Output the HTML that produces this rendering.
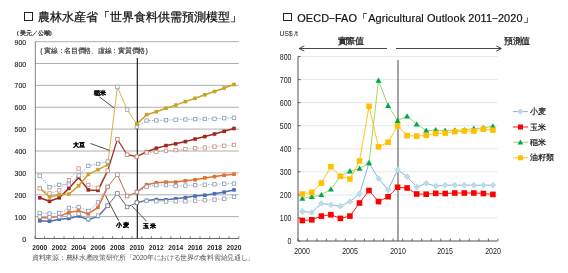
<!DOCTYPE html>
<html><head><meta charset="utf-8"><style>
html,body{margin:0;padding:0;background:#fff;width:568px;height:273px;overflow:hidden;position:relative}
.d{font-size:8.8px;vertical-align:0.7px;margin:0 0.4px}
.t{position:absolute;white-space:nowrap;font-family:"Liberation Sans",sans-serif;color:#111}
</style></head><body>
<div id="w" style="position:absolute;left:0;top:0;width:568px;height:273px;filter:blur(0.25px)"><svg width="568" height="273" viewBox="0 0 568 273" style="position:absolute;left:0;top:0"><line x1="34.9" y1="216.6" x2="238.8" y2="216.6" stroke="#9a9a9a" stroke-width="0.8"/><line x1="34.9" y1="194.8" x2="238.8" y2="194.8" stroke="#9a9a9a" stroke-width="0.8"/><line x1="34.9" y1="172.9" x2="238.8" y2="172.9" stroke="#9a9a9a" stroke-width="0.8"/><line x1="34.9" y1="151.0" x2="238.8" y2="151.0" stroke="#9a9a9a" stroke-width="0.8"/><line x1="34.9" y1="129.1" x2="238.8" y2="129.1" stroke="#9a9a9a" stroke-width="0.8"/><line x1="34.9" y1="107.3" x2="238.8" y2="107.3" stroke="#9a9a9a" stroke-width="0.8"/><line x1="34.9" y1="85.4" x2="238.8" y2="85.4" stroke="#9a9a9a" stroke-width="0.8"/><line x1="34.9" y1="63.5" x2="238.8" y2="63.5" stroke="#9a9a9a" stroke-width="0.8"/><line x1="34.9" y1="41.7" x2="238.8" y2="41.7" stroke="#9a9a9a" stroke-width="0.8"/><line x1="35.3" y1="41.5" x2="35.3" y2="238.5" stroke="#777" stroke-width="0.9"/><line x1="34.9" y1="238.5" x2="238.8" y2="238.5" stroke="#555" stroke-width="0.9"/><line x1="34.9" y1="236.3" x2="34.9" y2="238.5" stroke="#555" stroke-width="0.8"/><line x1="44.6" y1="236.3" x2="44.6" y2="238.5" stroke="#555" stroke-width="0.8"/><line x1="54.3" y1="236.3" x2="54.3" y2="238.5" stroke="#555" stroke-width="0.8"/><line x1="64.0" y1="236.3" x2="64.0" y2="238.5" stroke="#555" stroke-width="0.8"/><line x1="73.7" y1="236.3" x2="73.7" y2="238.5" stroke="#555" stroke-width="0.8"/><line x1="83.5" y1="236.3" x2="83.5" y2="238.5" stroke="#555" stroke-width="0.8"/><line x1="93.2" y1="236.3" x2="93.2" y2="238.5" stroke="#555" stroke-width="0.8"/><line x1="102.9" y1="236.3" x2="102.9" y2="238.5" stroke="#555" stroke-width="0.8"/><line x1="112.6" y1="236.3" x2="112.6" y2="238.5" stroke="#555" stroke-width="0.8"/><line x1="122.3" y1="236.3" x2="122.3" y2="238.5" stroke="#555" stroke-width="0.8"/><line x1="132.0" y1="236.3" x2="132.0" y2="238.5" stroke="#555" stroke-width="0.8"/><line x1="141.7" y1="236.3" x2="141.7" y2="238.5" stroke="#555" stroke-width="0.8"/><line x1="151.4" y1="236.3" x2="151.4" y2="238.5" stroke="#555" stroke-width="0.8"/><line x1="161.1" y1="236.3" x2="161.1" y2="238.5" stroke="#555" stroke-width="0.8"/><line x1="170.8" y1="236.3" x2="170.8" y2="238.5" stroke="#555" stroke-width="0.8"/><line x1="180.6" y1="236.3" x2="180.6" y2="238.5" stroke="#555" stroke-width="0.8"/><line x1="190.3" y1="236.3" x2="190.3" y2="238.5" stroke="#555" stroke-width="0.8"/><line x1="200.0" y1="236.3" x2="200.0" y2="238.5" stroke="#555" stroke-width="0.8"/><line x1="209.7" y1="236.3" x2="209.7" y2="238.5" stroke="#555" stroke-width="0.8"/><line x1="219.4" y1="236.3" x2="219.4" y2="238.5" stroke="#555" stroke-width="0.8"/><line x1="229.1" y1="236.3" x2="229.1" y2="238.5" stroke="#555" stroke-width="0.8"/><line x1="238.8" y1="236.3" x2="238.8" y2="238.5" stroke="#555" stroke-width="0.8"/><line x1="137.3" y1="58" x2="137.3" y2="238.5" stroke="#111" stroke-width="1.1"/><polyline points="39.8,220.8 49.5,221.2 59.2,219.3 68.9,218.4 78.6,216.0 88.3,219.7 98.0,216.4 107.7,205.7" fill="none" stroke="#4a6fb5" stroke-width="1.5" stroke-linejoin="round"/><polyline points="136.9,202.6 146.6,200.4 156.3,199.6 166.0,199.8 175.7,198.7 185.4,197.6 195.1,196.1 204.8,195.2 214.5,193.7 224.2,192.1 234.0,189.9" fill="none" stroke="#4a6fb5" stroke-width="1.5" stroke-linejoin="round"/><polyline points="107.7,205.7 117.4,193.4 127.1,207.0 136.9,202.6" fill="none" stroke="#5a5a6a" stroke-width="0.9" stroke-linejoin="round"/><polyline points="39.8,217.7 49.5,217.7 59.2,216.6 68.9,212.3 78.6,210.9 88.3,213.8 98.0,207.4 107.7,186.9" fill="none" stroke="#e0722e" stroke-width="1.5" stroke-linejoin="round"/><polyline points="136.9,192.1 146.6,184.7 156.3,182.7 166.0,182.1 175.7,182.1 185.4,180.8 195.1,179.7 204.8,177.9 214.5,176.6 224.2,175.3 234.0,174.2" fill="none" stroke="#e0722e" stroke-width="1.5" stroke-linejoin="round"/><polyline points="107.7,186.9 117.4,174.6 127.1,196.1 136.9,192.1" fill="none" stroke="#b0704a" stroke-width="1.0" stroke-linejoin="round"/><polyline points="39.8,197.8 49.5,201.3 59.2,197.8 68.9,188.4 78.6,177.5 88.3,189.9 98.0,190.4 107.7,170.7" fill="none" stroke="#a02a22" stroke-width="1.5" stroke-linejoin="round"/><polyline points="136.9,156.7 146.6,151.7 156.3,148.2 166.0,145.6 175.7,143.8 185.4,141.6 195.1,139.0 204.8,136.6 214.5,134.0 224.2,131.3 234.0,128.5" fill="none" stroke="#a02a22" stroke-width="1.5" stroke-linejoin="round"/><polyline points="107.7,170.7 117.4,139.2 127.1,154.7 136.9,156.7" fill="none" stroke="#a02a22" stroke-width="1.2" stroke-linejoin="round"/><polyline points="39.8,188.2 49.5,196.9 59.2,194.8 68.9,194.1 78.6,185.8 88.3,174.4 98.0,169.6 107.7,164.8" fill="none" stroke="#c8a22a" stroke-width="1.5" stroke-linejoin="round"/><polyline points="136.9,124.1 146.6,114.7 156.3,111.7 166.0,108.2 175.7,105.1 185.4,101.6 195.1,98.3 204.8,94.8 214.5,91.5 224.2,88.0 234.0,84.5" fill="none" stroke="#c8a22a" stroke-width="1.5" stroke-linejoin="round"/><polyline points="107.7,164.8 117.4,86.9 127.1,109.7 136.9,124.1" fill="none" stroke="#d0b848" stroke-width="1.0" stroke-linejoin="round"/><polyline points="39.8,216.6 49.5,217.3 59.2,217.1 68.9,216.0 78.6,213.8 88.3,218.8 98.0,215.5 107.7,205.7" fill="none" stroke="#e0a070" stroke-width="0.8" stroke-dasharray="1.5,1.3"/><polyline points="136.9,202.6 146.6,200.9 156.3,201.3 166.0,201.5 175.7,201.3 185.4,201.3 195.1,200.7 204.8,200.2 214.5,199.6 224.2,198.7 234.0,196.9" fill="none" stroke="#e0a070" stroke-width="0.8" stroke-dasharray="1.5,1.3"/><polyline points="39.8,212.9 49.5,213.6 59.2,213.3 68.9,207.9 78.6,207.0 88.3,210.9 98.0,202.4 107.7,186.9" fill="none" stroke="#8aa0c8" stroke-width="0.8" stroke-dasharray="1.5,1.3"/><polyline points="136.9,192.1 146.6,186.7 156.3,185.1 166.0,185.1 175.7,186.0 185.4,185.6 195.1,185.1 204.8,184.7 214.5,184.3 224.2,183.8 234.0,183.6" fill="none" stroke="#8aa0c8" stroke-width="0.8" stroke-dasharray="1.5,1.3"/><polyline points="39.8,188.4 49.5,193.4 59.2,190.4 68.9,180.1 78.6,168.5 88.3,184.9 98.0,187.8 107.7,170.7" fill="none" stroke="#d89078" stroke-width="0.8" stroke-dasharray="1.5,1.3"/><polyline points="136.9,156.7 146.6,152.6 156.3,151.9 166.0,150.8 175.7,150.1 185.4,149.1 195.1,148.2 204.8,147.5 214.5,146.6 224.2,145.8 234.0,144.9" fill="none" stroke="#d89078" stroke-width="0.8" stroke-dasharray="1.5,1.3"/><polyline points="39.8,175.7 49.5,187.3 59.2,184.9 68.9,184.5 78.6,175.5 88.3,165.9 98.0,163.9 107.7,161.5" fill="none" stroke="#7090c8" stroke-width="0.8" stroke-dasharray="1.5,1.3"/><polyline points="136.9,126.7 146.6,120.6 156.3,120.4 166.0,120.2 175.7,119.7 185.4,119.5 195.1,119.1 204.8,118.9 214.5,118.7 224.2,118.2 234.0,117.8" fill="none" stroke="#7090c8" stroke-width="0.8" stroke-dasharray="1.5,1.3"/><rect x="38.0" y="219.0" width="3.6" height="3.6" fill="#4a6fb5" stroke="#4a6fb5" stroke-width="0"/><rect x="47.7" y="219.4" width="3.6" height="3.6" fill="#4a6fb5" stroke="#4a6fb5" stroke-width="0"/><rect x="57.4" y="217.5" width="3.6" height="3.6" fill="#4a6fb5" stroke="#4a6fb5" stroke-width="0"/><rect x="67.1" y="216.6" width="3.6" height="3.6" fill="#4a6fb5" stroke="#4a6fb5" stroke-width="0"/><rect x="76.8" y="214.2" width="3.6" height="3.6" fill="#4a6fb5" stroke="#4a6fb5" stroke-width="0"/><rect x="86.5" y="217.9" width="3.6" height="3.6" fill="#4a6fb5" stroke="#4a6fb5" stroke-width="0"/><rect x="96.2" y="214.6" width="3.6" height="3.6" fill="#4a6fb5" stroke="#4a6fb5" stroke-width="0"/><rect x="144.8" y="198.6" width="3.6" height="3.6" fill="#4a6fb5" stroke="#4a6fb5" stroke-width="0"/><rect x="154.5" y="197.8" width="3.6" height="3.6" fill="#4a6fb5" stroke="#4a6fb5" stroke-width="0"/><rect x="164.2" y="198.0" width="3.6" height="3.6" fill="#4a6fb5" stroke="#4a6fb5" stroke-width="0"/><rect x="173.9" y="196.9" width="3.6" height="3.6" fill="#4a6fb5" stroke="#4a6fb5" stroke-width="0"/><rect x="183.6" y="195.8" width="3.6" height="3.6" fill="#4a6fb5" stroke="#4a6fb5" stroke-width="0"/><rect x="193.3" y="194.3" width="3.6" height="3.6" fill="#4a6fb5" stroke="#4a6fb5" stroke-width="0"/><rect x="203.0" y="193.4" width="3.6" height="3.6" fill="#4a6fb5" stroke="#4a6fb5" stroke-width="0"/><rect x="212.7" y="191.9" width="3.6" height="3.6" fill="#4a6fb5" stroke="#4a6fb5" stroke-width="0"/><rect x="222.4" y="190.3" width="3.6" height="3.6" fill="#4a6fb5" stroke="#4a6fb5" stroke-width="0"/><rect x="232.2" y="188.1" width="3.6" height="3.6" fill="#4a6fb5" stroke="#4a6fb5" stroke-width="0"/><rect x="38.0" y="215.9" width="3.6" height="3.6" fill="#e0722e" stroke="#e0722e" stroke-width="0"/><rect x="47.7" y="215.9" width="3.6" height="3.6" fill="#e0722e" stroke="#e0722e" stroke-width="0"/><rect x="57.4" y="214.8" width="3.6" height="3.6" fill="#e0722e" stroke="#e0722e" stroke-width="0"/><rect x="67.1" y="210.5" width="3.6" height="3.6" fill="#e0722e" stroke="#e0722e" stroke-width="0"/><rect x="76.8" y="209.1" width="3.6" height="3.6" fill="#e0722e" stroke="#e0722e" stroke-width="0"/><rect x="86.5" y="212.0" width="3.6" height="3.6" fill="#e0722e" stroke="#e0722e" stroke-width="0"/><rect x="96.2" y="205.6" width="3.6" height="3.6" fill="#e0722e" stroke="#e0722e" stroke-width="0"/><rect x="144.8" y="182.9" width="3.6" height="3.6" fill="#e0722e" stroke="#e0722e" stroke-width="0"/><rect x="154.5" y="180.9" width="3.6" height="3.6" fill="#e0722e" stroke="#e0722e" stroke-width="0"/><rect x="164.2" y="180.3" width="3.6" height="3.6" fill="#e0722e" stroke="#e0722e" stroke-width="0"/><rect x="173.9" y="180.3" width="3.6" height="3.6" fill="#e0722e" stroke="#e0722e" stroke-width="0"/><rect x="183.6" y="179.0" width="3.6" height="3.6" fill="#e0722e" stroke="#e0722e" stroke-width="0"/><rect x="193.3" y="177.9" width="3.6" height="3.6" fill="#e0722e" stroke="#e0722e" stroke-width="0"/><rect x="203.0" y="176.1" width="3.6" height="3.6" fill="#e0722e" stroke="#e0722e" stroke-width="0"/><rect x="212.7" y="174.8" width="3.6" height="3.6" fill="#e0722e" stroke="#e0722e" stroke-width="0"/><rect x="222.4" y="173.5" width="3.6" height="3.6" fill="#e0722e" stroke="#e0722e" stroke-width="0"/><rect x="232.2" y="172.4" width="3.6" height="3.6" fill="#e0722e" stroke="#e0722e" stroke-width="0"/><rect x="38.0" y="196.0" width="3.6" height="3.6" fill="#a02a22" stroke="#a02a22" stroke-width="0"/><rect x="47.7" y="199.5" width="3.6" height="3.6" fill="#a02a22" stroke="#a02a22" stroke-width="0"/><rect x="57.4" y="196.0" width="3.6" height="3.6" fill="#a02a22" stroke="#a02a22" stroke-width="0"/><rect x="67.1" y="186.6" width="3.6" height="3.6" fill="#a02a22" stroke="#a02a22" stroke-width="0"/><rect x="76.8" y="175.7" width="3.6" height="3.6" fill="#a02a22" stroke="#a02a22" stroke-width="0"/><rect x="86.5" y="188.1" width="3.6" height="3.6" fill="#a02a22" stroke="#a02a22" stroke-width="0"/><rect x="96.2" y="188.6" width="3.6" height="3.6" fill="#a02a22" stroke="#a02a22" stroke-width="0"/><rect x="105.9" y="168.9" width="3.6" height="3.6" fill="#a02a22" stroke="#a02a22" stroke-width="0"/><rect x="144.8" y="149.9" width="3.6" height="3.6" fill="#a02a22" stroke="#a02a22" stroke-width="0"/><rect x="154.5" y="146.4" width="3.6" height="3.6" fill="#a02a22" stroke="#a02a22" stroke-width="0"/><rect x="164.2" y="143.8" width="3.6" height="3.6" fill="#a02a22" stroke="#a02a22" stroke-width="0"/><rect x="173.9" y="142.0" width="3.6" height="3.6" fill="#a02a22" stroke="#a02a22" stroke-width="0"/><rect x="183.6" y="139.8" width="3.6" height="3.6" fill="#a02a22" stroke="#a02a22" stroke-width="0"/><rect x="193.3" y="137.2" width="3.6" height="3.6" fill="#a02a22" stroke="#a02a22" stroke-width="0"/><rect x="203.0" y="134.8" width="3.6" height="3.6" fill="#a02a22" stroke="#a02a22" stroke-width="0"/><rect x="212.7" y="132.2" width="3.6" height="3.6" fill="#a02a22" stroke="#a02a22" stroke-width="0"/><rect x="222.4" y="129.5" width="3.6" height="3.6" fill="#a02a22" stroke="#a02a22" stroke-width="0"/><rect x="232.2" y="126.7" width="3.6" height="3.6" fill="#a02a22" stroke="#a02a22" stroke-width="0"/><rect x="38.0" y="186.4" width="3.6" height="3.6" fill="#c8a22a" stroke="#c8a22a" stroke-width="0"/><rect x="47.7" y="195.1" width="3.6" height="3.6" fill="#c8a22a" stroke="#c8a22a" stroke-width="0"/><rect x="57.4" y="193.0" width="3.6" height="3.6" fill="#c8a22a" stroke="#c8a22a" stroke-width="0"/><rect x="67.1" y="192.3" width="3.6" height="3.6" fill="#c8a22a" stroke="#c8a22a" stroke-width="0"/><rect x="76.8" y="184.0" width="3.6" height="3.6" fill="#c8a22a" stroke="#c8a22a" stroke-width="0"/><rect x="86.5" y="172.6" width="3.6" height="3.6" fill="#c8a22a" stroke="#c8a22a" stroke-width="0"/><rect x="96.2" y="167.8" width="3.6" height="3.6" fill="#c8a22a" stroke="#c8a22a" stroke-width="0"/><rect x="105.9" y="163.0" width="3.6" height="3.6" fill="#c8a22a" stroke="#c8a22a" stroke-width="0"/><rect x="135.1" y="122.3" width="3.6" height="3.6" fill="#c8a22a" stroke="#c8a22a" stroke-width="0"/><rect x="144.8" y="112.9" width="3.6" height="3.6" fill="#c8a22a" stroke="#c8a22a" stroke-width="0"/><rect x="154.5" y="109.9" width="3.6" height="3.6" fill="#c8a22a" stroke="#c8a22a" stroke-width="0"/><rect x="164.2" y="106.4" width="3.6" height="3.6" fill="#c8a22a" stroke="#c8a22a" stroke-width="0"/><rect x="173.9" y="103.3" width="3.6" height="3.6" fill="#c8a22a" stroke="#c8a22a" stroke-width="0"/><rect x="183.6" y="99.8" width="3.6" height="3.6" fill="#c8a22a" stroke="#c8a22a" stroke-width="0"/><rect x="193.3" y="96.5" width="3.6" height="3.6" fill="#c8a22a" stroke="#c8a22a" stroke-width="0"/><rect x="203.0" y="93.0" width="3.6" height="3.6" fill="#c8a22a" stroke="#c8a22a" stroke-width="0"/><rect x="212.7" y="89.7" width="3.6" height="3.6" fill="#c8a22a" stroke="#c8a22a" stroke-width="0"/><rect x="222.4" y="86.2" width="3.6" height="3.6" fill="#c8a22a" stroke="#c8a22a" stroke-width="0"/><rect x="232.2" y="82.7" width="3.6" height="3.6" fill="#c8a22a" stroke="#c8a22a" stroke-width="0"/><rect x="38.0" y="214.9" width="3.4" height="3.4" fill="#fff" stroke="#8a9ab8" stroke-width="0.8"/><rect x="47.8" y="215.6" width="3.4" height="3.4" fill="#fff" stroke="#8a9ab8" stroke-width="0.8"/><rect x="57.5" y="215.4" width="3.4" height="3.4" fill="#fff" stroke="#8a9ab8" stroke-width="0.8"/><rect x="67.2" y="214.3" width="3.4" height="3.4" fill="#fff" stroke="#8a9ab8" stroke-width="0.8"/><rect x="76.9" y="212.1" width="3.4" height="3.4" fill="#fff" stroke="#8a9ab8" stroke-width="0.8"/><rect x="86.6" y="217.1" width="3.4" height="3.4" fill="#fff" stroke="#8a9ab8" stroke-width="0.8"/><rect x="96.3" y="213.8" width="3.4" height="3.4" fill="#fff" stroke="#8a9ab8" stroke-width="0.8"/><rect x="106.0" y="204.0" width="3.4" height="3.4" fill="#fff" stroke="#8a9ab8" stroke-width="0.8"/><rect x="135.2" y="200.9" width="3.4" height="3.4" fill="#fff" stroke="#8a9ab8" stroke-width="0.8"/><rect x="144.9" y="199.2" width="3.4" height="3.4" fill="#fff" stroke="#8a9ab8" stroke-width="0.8"/><rect x="154.6" y="199.6" width="3.4" height="3.4" fill="#fff" stroke="#8a9ab8" stroke-width="0.8"/><rect x="164.3" y="199.8" width="3.4" height="3.4" fill="#fff" stroke="#8a9ab8" stroke-width="0.8"/><rect x="174.0" y="199.6" width="3.4" height="3.4" fill="#fff" stroke="#8a9ab8" stroke-width="0.8"/><rect x="183.7" y="199.6" width="3.4" height="3.4" fill="#fff" stroke="#8a9ab8" stroke-width="0.8"/><rect x="193.4" y="199.0" width="3.4" height="3.4" fill="#fff" stroke="#8a9ab8" stroke-width="0.8"/><rect x="203.1" y="198.5" width="3.4" height="3.4" fill="#fff" stroke="#8a9ab8" stroke-width="0.8"/><rect x="212.8" y="197.9" width="3.4" height="3.4" fill="#fff" stroke="#8a9ab8" stroke-width="0.8"/><rect x="222.5" y="197.0" width="3.4" height="3.4" fill="#fff" stroke="#8a9ab8" stroke-width="0.8"/><rect x="232.3" y="195.2" width="3.4" height="3.4" fill="#fff" stroke="#8a9ab8" stroke-width="0.8"/><rect x="38.0" y="211.2" width="3.4" height="3.4" fill="#fff" stroke="#8a9ab8" stroke-width="0.8"/><rect x="47.8" y="211.9" width="3.4" height="3.4" fill="#fff" stroke="#8a9ab8" stroke-width="0.8"/><rect x="57.5" y="211.6" width="3.4" height="3.4" fill="#fff" stroke="#8a9ab8" stroke-width="0.8"/><rect x="67.2" y="206.2" width="3.4" height="3.4" fill="#fff" stroke="#8a9ab8" stroke-width="0.8"/><rect x="76.9" y="205.3" width="3.4" height="3.4" fill="#fff" stroke="#8a9ab8" stroke-width="0.8"/><rect x="86.6" y="209.2" width="3.4" height="3.4" fill="#fff" stroke="#8a9ab8" stroke-width="0.8"/><rect x="96.3" y="200.7" width="3.4" height="3.4" fill="#fff" stroke="#8a9ab8" stroke-width="0.8"/><rect x="106.0" y="185.2" width="3.4" height="3.4" fill="#fff" stroke="#8a9ab8" stroke-width="0.8"/><rect x="135.2" y="190.4" width="3.4" height="3.4" fill="#fff" stroke="#8a9ab8" stroke-width="0.8"/><rect x="144.9" y="185.0" width="3.4" height="3.4" fill="#fff" stroke="#8a9ab8" stroke-width="0.8"/><rect x="154.6" y="183.4" width="3.4" height="3.4" fill="#fff" stroke="#8a9ab8" stroke-width="0.8"/><rect x="164.3" y="183.4" width="3.4" height="3.4" fill="#fff" stroke="#8a9ab8" stroke-width="0.8"/><rect x="174.0" y="184.3" width="3.4" height="3.4" fill="#fff" stroke="#8a9ab8" stroke-width="0.8"/><rect x="183.7" y="183.9" width="3.4" height="3.4" fill="#fff" stroke="#8a9ab8" stroke-width="0.8"/><rect x="193.4" y="183.4" width="3.4" height="3.4" fill="#fff" stroke="#8a9ab8" stroke-width="0.8"/><rect x="203.1" y="183.0" width="3.4" height="3.4" fill="#fff" stroke="#8a9ab8" stroke-width="0.8"/><rect x="212.8" y="182.6" width="3.4" height="3.4" fill="#fff" stroke="#8a9ab8" stroke-width="0.8"/><rect x="222.5" y="182.1" width="3.4" height="3.4" fill="#fff" stroke="#8a9ab8" stroke-width="0.8"/><rect x="232.3" y="181.9" width="3.4" height="3.4" fill="#fff" stroke="#8a9ab8" stroke-width="0.8"/><rect x="38.0" y="186.7" width="3.4" height="3.4" fill="#fff" stroke="#c89080" stroke-width="0.8"/><rect x="47.8" y="191.7" width="3.4" height="3.4" fill="#fff" stroke="#c89080" stroke-width="0.8"/><rect x="57.5" y="188.7" width="3.4" height="3.4" fill="#fff" stroke="#c89080" stroke-width="0.8"/><rect x="67.2" y="178.4" width="3.4" height="3.4" fill="#fff" stroke="#c89080" stroke-width="0.8"/><rect x="76.9" y="166.8" width="3.4" height="3.4" fill="#fff" stroke="#c89080" stroke-width="0.8"/><rect x="86.6" y="183.2" width="3.4" height="3.4" fill="#fff" stroke="#c89080" stroke-width="0.8"/><rect x="96.3" y="186.1" width="3.4" height="3.4" fill="#fff" stroke="#c89080" stroke-width="0.8"/><rect x="106.0" y="169.0" width="3.4" height="3.4" fill="#fff" stroke="#c89080" stroke-width="0.8"/><rect x="135.2" y="155.0" width="3.4" height="3.4" fill="#fff" stroke="#c89080" stroke-width="0.8"/><rect x="144.9" y="150.9" width="3.4" height="3.4" fill="#fff" stroke="#c89080" stroke-width="0.8"/><rect x="154.6" y="150.2" width="3.4" height="3.4" fill="#fff" stroke="#c89080" stroke-width="0.8"/><rect x="164.3" y="149.1" width="3.4" height="3.4" fill="#fff" stroke="#c89080" stroke-width="0.8"/><rect x="174.0" y="148.4" width="3.4" height="3.4" fill="#fff" stroke="#c89080" stroke-width="0.8"/><rect x="183.7" y="147.4" width="3.4" height="3.4" fill="#fff" stroke="#c89080" stroke-width="0.8"/><rect x="193.4" y="146.5" width="3.4" height="3.4" fill="#fff" stroke="#c89080" stroke-width="0.8"/><rect x="203.1" y="145.8" width="3.4" height="3.4" fill="#fff" stroke="#c89080" stroke-width="0.8"/><rect x="212.8" y="144.9" width="3.4" height="3.4" fill="#fff" stroke="#c89080" stroke-width="0.8"/><rect x="222.5" y="144.1" width="3.4" height="3.4" fill="#fff" stroke="#c89080" stroke-width="0.8"/><rect x="232.3" y="143.2" width="3.4" height="3.4" fill="#fff" stroke="#c89080" stroke-width="0.8"/><rect x="38.0" y="174.0" width="3.4" height="3.4" fill="#fff" stroke="#8a9ab8" stroke-width="0.8"/><rect x="47.8" y="185.6" width="3.4" height="3.4" fill="#fff" stroke="#8a9ab8" stroke-width="0.8"/><rect x="57.5" y="183.2" width="3.4" height="3.4" fill="#fff" stroke="#8a9ab8" stroke-width="0.8"/><rect x="67.2" y="182.8" width="3.4" height="3.4" fill="#fff" stroke="#8a9ab8" stroke-width="0.8"/><rect x="76.9" y="173.8" width="3.4" height="3.4" fill="#fff" stroke="#8a9ab8" stroke-width="0.8"/><rect x="86.6" y="164.2" width="3.4" height="3.4" fill="#fff" stroke="#8a9ab8" stroke-width="0.8"/><rect x="96.3" y="162.2" width="3.4" height="3.4" fill="#fff" stroke="#8a9ab8" stroke-width="0.8"/><rect x="106.0" y="159.8" width="3.4" height="3.4" fill="#fff" stroke="#8a9ab8" stroke-width="0.8"/><rect x="135.2" y="125.0" width="3.4" height="3.4" fill="#fff" stroke="#8a9ab8" stroke-width="0.8"/><rect x="144.9" y="118.9" width="3.4" height="3.4" fill="#fff" stroke="#8a9ab8" stroke-width="0.8"/><rect x="154.6" y="118.7" width="3.4" height="3.4" fill="#fff" stroke="#8a9ab8" stroke-width="0.8"/><rect x="164.3" y="118.5" width="3.4" height="3.4" fill="#fff" stroke="#8a9ab8" stroke-width="0.8"/><rect x="174.0" y="118.0" width="3.4" height="3.4" fill="#fff" stroke="#8a9ab8" stroke-width="0.8"/><rect x="183.7" y="117.8" width="3.4" height="3.4" fill="#fff" stroke="#8a9ab8" stroke-width="0.8"/><rect x="193.4" y="117.4" width="3.4" height="3.4" fill="#fff" stroke="#8a9ab8" stroke-width="0.8"/><rect x="203.1" y="117.2" width="3.4" height="3.4" fill="#fff" stroke="#8a9ab8" stroke-width="0.8"/><rect x="212.8" y="117.0" width="3.4" height="3.4" fill="#fff" stroke="#8a9ab8" stroke-width="0.8"/><rect x="222.5" y="116.5" width="3.4" height="3.4" fill="#fff" stroke="#8a9ab8" stroke-width="0.8"/><rect x="232.3" y="116.1" width="3.4" height="3.4" fill="#fff" stroke="#8a9ab8" stroke-width="0.8"/><rect x="105.9" y="203.9" width="3.6" height="3.6" fill="#fff" stroke="#7a7a8a" stroke-width="0.8"/><rect x="115.6" y="191.6" width="3.6" height="3.6" fill="#fff" stroke="#7a7a8a" stroke-width="0.8"/><rect x="125.3" y="205.2" width="3.6" height="3.6" fill="#fff" stroke="#7a7a8a" stroke-width="0.8"/><rect x="135.1" y="200.8" width="3.6" height="3.6" fill="#fff" stroke="#7a7a8a" stroke-width="0.8"/><rect x="105.9" y="185.1" width="3.6" height="3.6" fill="#fff" stroke="#b08070" stroke-width="0.8"/><rect x="115.6" y="172.8" width="3.6" height="3.6" fill="#fff" stroke="#b08070" stroke-width="0.8"/><rect x="125.3" y="194.3" width="3.6" height="3.6" fill="#fff" stroke="#b08070" stroke-width="0.8"/><rect x="135.1" y="190.3" width="3.6" height="3.6" fill="#fff" stroke="#b08070" stroke-width="0.8"/><rect x="115.6" y="137.4" width="3.6" height="3.6" fill="#fff" stroke="#c08070" stroke-width="0.8"/><rect x="125.3" y="152.9" width="3.6" height="3.6" fill="#fff" stroke="#c08070" stroke-width="0.8"/><rect x="135.1" y="154.9" width="3.6" height="3.6" fill="#fff" stroke="#c08070" stroke-width="0.8"/><rect x="115.6" y="85.1" width="3.6" height="3.6" fill="#fff" stroke="#9aa0b8" stroke-width="0.8"/><rect x="125.3" y="107.9" width="3.6" height="3.6" fill="#fff" stroke="#9aa0b8" stroke-width="0.8"/><rect x="135.1" y="122.3" width="3.6" height="3.6" fill="#c8a22a" stroke="#c8a22a" stroke-width="0"/><line x1="99.3" y1="96.8" x2="114.2" y2="108.1" stroke="#222" stroke-width="0.8"/><line x1="90.5" y1="143.5" x2="109.3" y2="150.3" stroke="#222" stroke-width="0.8"/><line x1="105.4" y1="195.4" x2="118.6" y2="220.7" stroke="#222" stroke-width="0.8"/><line x1="131.8" y1="205.9" x2="146.5" y2="221.2" stroke="#222" stroke-width="0.8"/><line x1="298" y1="217.9" x2="497.5" y2="217.9" stroke="#e4e4e4" stroke-width="0.9"/><line x1="298" y1="194.9" x2="497.5" y2="194.9" stroke="#e4e4e4" stroke-width="0.9"/><line x1="298" y1="171.8" x2="497.5" y2="171.8" stroke="#e4e4e4" stroke-width="0.9"/><line x1="298" y1="148.8" x2="497.5" y2="148.8" stroke="#e4e4e4" stroke-width="0.9"/><line x1="298" y1="125.7" x2="497.5" y2="125.7" stroke="#e4e4e4" stroke-width="0.9"/><line x1="298" y1="102.6" x2="497.5" y2="102.6" stroke="#e4e4e4" stroke-width="0.9"/><line x1="298" y1="79.6" x2="497.5" y2="79.6" stroke="#e4e4e4" stroke-width="0.9"/><line x1="298" y1="56.5" x2="497.5" y2="56.5" stroke="#e4e4e4" stroke-width="0.9"/><line x1="298" y1="56.5" x2="298" y2="241" stroke="#555" stroke-width="1"/><line x1="298" y1="241" x2="497.5" y2="241" stroke="#555" stroke-width="1"/><line x1="298" y1="241.0" x2="300.5" y2="241.0" stroke="#555" stroke-width="0.9"/><line x1="298" y1="217.9" x2="300.5" y2="217.9" stroke="#555" stroke-width="0.9"/><line x1="298" y1="194.9" x2="300.5" y2="194.9" stroke="#555" stroke-width="0.9"/><line x1="298" y1="171.8" x2="300.5" y2="171.8" stroke="#555" stroke-width="0.9"/><line x1="298" y1="148.8" x2="300.5" y2="148.8" stroke="#555" stroke-width="0.9"/><line x1="298" y1="125.7" x2="300.5" y2="125.7" stroke="#555" stroke-width="0.9"/><line x1="298" y1="102.6" x2="300.5" y2="102.6" stroke="#555" stroke-width="0.9"/><line x1="298" y1="79.6" x2="300.5" y2="79.6" stroke="#555" stroke-width="0.9"/><line x1="298" y1="56.5" x2="300.5" y2="56.5" stroke="#555" stroke-width="0.9"/><line x1="297.8" y1="238.5" x2="297.8" y2="241" stroke="#555" stroke-width="0.9"/><line x1="307.3" y1="238.5" x2="307.3" y2="241" stroke="#555" stroke-width="0.9"/><line x1="316.9" y1="238.5" x2="316.9" y2="241" stroke="#555" stroke-width="0.9"/><line x1="326.4" y1="238.5" x2="326.4" y2="241" stroke="#555" stroke-width="0.9"/><line x1="335.9" y1="238.5" x2="335.9" y2="241" stroke="#555" stroke-width="0.9"/><line x1="345.4" y1="238.5" x2="345.4" y2="241" stroke="#555" stroke-width="0.9"/><line x1="355.0" y1="238.5" x2="355.0" y2="241" stroke="#555" stroke-width="0.9"/><line x1="364.5" y1="238.5" x2="364.5" y2="241" stroke="#555" stroke-width="0.9"/><line x1="374.0" y1="238.5" x2="374.0" y2="241" stroke="#555" stroke-width="0.9"/><line x1="383.6" y1="238.5" x2="383.6" y2="241" stroke="#555" stroke-width="0.9"/><line x1="393.1" y1="238.5" x2="393.1" y2="241" stroke="#555" stroke-width="0.9"/><line x1="402.6" y1="238.5" x2="402.6" y2="241" stroke="#555" stroke-width="0.9"/><line x1="412.2" y1="238.5" x2="412.2" y2="241" stroke="#555" stroke-width="0.9"/><line x1="421.7" y1="238.5" x2="421.7" y2="241" stroke="#555" stroke-width="0.9"/><line x1="431.2" y1="238.5" x2="431.2" y2="241" stroke="#555" stroke-width="0.9"/><line x1="440.8" y1="238.5" x2="440.8" y2="241" stroke="#555" stroke-width="0.9"/><line x1="450.3" y1="238.5" x2="450.3" y2="241" stroke="#555" stroke-width="0.9"/><line x1="459.8" y1="238.5" x2="459.8" y2="241" stroke="#555" stroke-width="0.9"/><line x1="469.3" y1="238.5" x2="469.3" y2="241" stroke="#555" stroke-width="0.9"/><line x1="478.9" y1="238.5" x2="478.9" y2="241" stroke="#555" stroke-width="0.9"/><line x1="488.4" y1="238.5" x2="488.4" y2="241" stroke="#555" stroke-width="0.9"/><line x1="497.9" y1="238.5" x2="497.9" y2="241" stroke="#555" stroke-width="0.9"/><line x1="398" y1="60" x2="398" y2="241" stroke="#666" stroke-width="1.2"/><line x1="299" y1="48.5" x2="387" y2="48.5" stroke="#333" stroke-width="0.9"/><polyline points="304.3,45.9 299.2,48.5 304.3,51.1" fill="none" stroke="#333" stroke-width="0.9"/><line x1="396" y1="48.5" x2="501" y2="48.5" stroke="#333" stroke-width="0.9"/><polyline points="496.3,45.9 501.4,48.5 496.3,51.1" fill="none" stroke="#333" stroke-width="0.9"/><polyline points="302.3,211.5 311.8,212.4 321.4,203.4 330.9,204.8 340.4,206.2 349.9,201.6 359.5,194.0 369.0,163.1 378.5,178.5 388.1,189.8 397.6,169.7 407.1,176.7 416.7,187.0 426.2,183.3 435.7,186.1 445.2,185.2 454.8,185.2 464.3,185.2 473.8,185.2 483.4,185.2 492.9,185.2" fill="none" stroke="#7fa6d6" stroke-width="0.9"/><polygon points="302.3,208.1 305.7,211.5 302.3,214.9 298.9,211.5" fill="#b9dde6"/><polygon points="311.8,209.0 315.2,212.4 311.8,215.8 308.4,212.4" fill="#b9dde6"/><polygon points="321.4,200.0 324.8,203.4 321.4,206.8 318.0,203.4" fill="#b9dde6"/><polygon points="330.9,201.4 334.3,204.8 330.9,208.2 327.5,204.8" fill="#b9dde6"/><polygon points="340.4,202.8 343.8,206.2 340.4,209.6 337.0,206.2" fill="#b9dde6"/><polygon points="349.9,198.2 353.3,201.6 349.9,205.0 346.6,201.6" fill="#b9dde6"/><polygon points="359.5,190.6 362.9,194.0 359.5,197.4 356.1,194.0" fill="#b9dde6"/><polygon points="369.0,159.7 372.4,163.1 369.0,166.5 365.6,163.1" fill="#b9dde6"/><polygon points="378.5,175.1 381.9,178.5 378.5,181.9 375.1,178.5" fill="#b9dde6"/><polygon points="388.1,186.4 391.5,189.8 388.1,193.2 384.7,189.8" fill="#b9dde6"/><polygon points="397.6,166.3 401.0,169.7 397.6,173.1 394.2,169.7" fill="#b9dde6"/><polygon points="407.1,173.3 410.5,176.7 407.1,180.1 403.7,176.7" fill="#b9dde6"/><polygon points="416.7,183.6 420.1,187.0 416.7,190.4 413.3,187.0" fill="#b9dde6"/><polygon points="426.2,179.9 429.6,183.3 426.2,186.8 422.8,183.3" fill="#b9dde6"/><polygon points="435.7,182.7 439.1,186.1 435.7,189.5 432.3,186.1" fill="#b9dde6"/><polygon points="445.2,181.8 448.6,185.2 445.2,188.6 441.9,185.2" fill="#b9dde6"/><polygon points="454.8,181.8 458.2,185.2 454.8,188.6 451.4,185.2" fill="#b9dde6"/><polygon points="464.3,181.8 467.7,185.2 464.3,188.6 460.9,185.2" fill="#b9dde6"/><polygon points="473.8,181.8 477.2,185.2 473.8,188.6 470.4,185.2" fill="#b9dde6"/><polygon points="483.4,181.8 486.8,185.2 483.4,188.6 480.0,185.2" fill="#b9dde6"/><polygon points="492.9,181.8 496.3,185.2 492.9,188.6 489.5,185.2" fill="#b9dde6"/><polyline points="302.3,220.5 311.8,219.8 321.4,216.1 330.9,214.7 340.4,218.4 349.9,216.1 359.5,203.0 369.0,190.5 378.5,201.6 388.1,196.7 397.6,187.3 407.1,188.0 416.7,194.0 426.2,194.2 435.7,193.3 445.2,193.5 454.8,193.0 464.3,193.0 473.8,193.0 483.4,193.5 492.9,194.4" fill="none" stroke="#ff0000" stroke-width="0.9"/><rect x="299.5" y="217.7" width="5.6" height="5.6" fill="#ff0000" stroke="#ff0000" stroke-width="0"/><rect x="309.0" y="217.0" width="5.6" height="5.6" fill="#ff0000" stroke="#ff0000" stroke-width="0"/><rect x="318.6" y="213.3" width="5.6" height="5.6" fill="#ff0000" stroke="#ff0000" stroke-width="0"/><rect x="328.1" y="211.9" width="5.6" height="5.6" fill="#ff0000" stroke="#ff0000" stroke-width="0"/><rect x="337.6" y="215.6" width="5.6" height="5.6" fill="#ff0000" stroke="#ff0000" stroke-width="0"/><rect x="347.1" y="213.3" width="5.6" height="5.6" fill="#ff0000" stroke="#ff0000" stroke-width="0"/><rect x="356.7" y="200.2" width="5.6" height="5.6" fill="#ff0000" stroke="#ff0000" stroke-width="0"/><rect x="366.2" y="187.7" width="5.6" height="5.6" fill="#ff0000" stroke="#ff0000" stroke-width="0"/><rect x="375.7" y="198.8" width="5.6" height="5.6" fill="#ff0000" stroke="#ff0000" stroke-width="0"/><rect x="385.3" y="193.9" width="5.6" height="5.6" fill="#ff0000" stroke="#ff0000" stroke-width="0"/><rect x="394.8" y="184.5" width="5.6" height="5.6" fill="#ff0000" stroke="#ff0000" stroke-width="0"/><rect x="404.3" y="185.2" width="5.6" height="5.6" fill="#ff0000" stroke="#ff0000" stroke-width="0"/><rect x="413.9" y="191.2" width="5.6" height="5.6" fill="#ff0000" stroke="#ff0000" stroke-width="0"/><rect x="423.4" y="191.4" width="5.6" height="5.6" fill="#ff0000" stroke="#ff0000" stroke-width="0"/><rect x="432.9" y="190.5" width="5.6" height="5.6" fill="#ff0000" stroke="#ff0000" stroke-width="0"/><rect x="442.4" y="190.7" width="5.6" height="5.6" fill="#ff0000" stroke="#ff0000" stroke-width="0"/><rect x="452.0" y="190.2" width="5.6" height="5.6" fill="#ff0000" stroke="#ff0000" stroke-width="0"/><rect x="461.5" y="190.2" width="5.6" height="5.6" fill="#ff0000" stroke="#ff0000" stroke-width="0"/><rect x="471.0" y="190.2" width="5.6" height="5.6" fill="#ff0000" stroke="#ff0000" stroke-width="0"/><rect x="480.6" y="190.7" width="5.6" height="5.6" fill="#ff0000" stroke="#ff0000" stroke-width="0"/><rect x="490.1" y="191.6" width="5.6" height="5.6" fill="#ff0000" stroke="#ff0000" stroke-width="0"/><polyline points="302.3,198.6 311.8,196.7 321.4,194.9 330.9,189.3 340.4,176.0 349.9,171.1 359.5,168.6 369.0,163.1 378.5,80.5 388.1,105.6 397.6,120.6 407.1,116.2 416.7,124.3 426.2,130.5 435.7,130.1 445.2,130.5 454.8,130.3 464.3,129.9 473.8,128.5 483.4,128.0 492.9,126.2" fill="none" stroke="#92d050" stroke-width="0.9"/><polygon points="302.3,195.6 299.3,200.8 305.3,200.8" fill="#00a650"/><polygon points="311.8,193.7 308.8,199.0 314.8,199.0" fill="#00a650"/><polygon points="321.4,191.9 318.4,197.1 324.4,197.1" fill="#00a650"/><polygon points="330.9,186.3 327.9,191.6 333.9,191.6" fill="#00a650"/><polygon points="340.4,173.0 337.4,178.2 343.4,178.2" fill="#00a650"/><polygon points="349.9,168.1 346.9,173.4 352.9,173.4" fill="#00a650"/><polygon points="359.5,165.6 356.5,170.8 362.5,170.8" fill="#00a650"/><polygon points="369.0,160.1 366.0,165.3 372.0,165.3" fill="#00a650"/><polygon points="378.5,77.5 375.5,82.8 381.5,82.8" fill="#00a650"/><polygon points="388.1,102.6 385.1,107.9 391.1,107.9" fill="#00a650"/><polygon points="397.6,117.6 394.6,122.9 400.6,122.9" fill="#00a650"/><polygon points="407.1,113.2 404.1,118.5 410.1,118.5" fill="#00a650"/><polygon points="416.7,121.3 413.7,126.6 419.7,126.6" fill="#00a650"/><polygon points="426.2,127.5 423.2,132.8 429.2,132.8" fill="#00a650"/><polygon points="435.7,127.1 432.7,132.3 438.7,132.3" fill="#00a650"/><polygon points="445.2,127.5 442.2,132.8 448.2,132.8" fill="#00a650"/><polygon points="454.8,127.3 451.8,132.6 457.8,132.6" fill="#00a650"/><polygon points="464.3,126.9 461.3,132.1 467.3,132.1" fill="#00a650"/><polygon points="473.8,125.5 470.8,130.7 476.8,130.7" fill="#00a650"/><polygon points="483.4,125.0 480.4,130.3 486.4,130.3" fill="#00a650"/><polygon points="492.9,123.2 489.9,128.4 495.9,128.4" fill="#00a650"/><polyline points="302.3,194.0 311.8,192.3 321.4,183.1 330.9,166.7 340.4,176.4 349.9,179.0 359.5,161.0 369.0,106.3 378.5,146.9 388.1,142.3 397.6,125.9 407.1,135.6 416.7,136.1 426.2,135.4 435.7,133.5 445.2,133.1 454.8,131.7 464.3,131.0 473.8,131.0 483.4,129.2 492.9,130.1" fill="none" stroke="#ffc000" stroke-width="0.9"/><rect x="299.5" y="191.2" width="5.6" height="5.6" fill="#ffc000" stroke="#ffc000" stroke-width="0"/><rect x="309.0" y="189.5" width="5.6" height="5.6" fill="#ffc000" stroke="#ffc000" stroke-width="0"/><rect x="318.6" y="180.3" width="5.6" height="5.6" fill="#ffc000" stroke="#ffc000" stroke-width="0"/><rect x="328.1" y="163.9" width="5.6" height="5.6" fill="#ffc000" stroke="#ffc000" stroke-width="0"/><rect x="337.6" y="173.6" width="5.6" height="5.6" fill="#ffc000" stroke="#ffc000" stroke-width="0"/><rect x="347.1" y="176.2" width="5.6" height="5.6" fill="#ffc000" stroke="#ffc000" stroke-width="0"/><rect x="356.7" y="158.2" width="5.6" height="5.6" fill="#ffc000" stroke="#ffc000" stroke-width="0"/><rect x="366.2" y="103.5" width="5.6" height="5.6" fill="#ffc000" stroke="#ffc000" stroke-width="0"/><rect x="375.7" y="144.1" width="5.6" height="5.6" fill="#ffc000" stroke="#ffc000" stroke-width="0"/><rect x="385.3" y="139.5" width="5.6" height="5.6" fill="#ffc000" stroke="#ffc000" stroke-width="0"/><rect x="394.8" y="123.1" width="5.6" height="5.6" fill="#ffc000" stroke="#ffc000" stroke-width="0"/><rect x="404.3" y="132.8" width="5.6" height="5.6" fill="#ffc000" stroke="#ffc000" stroke-width="0"/><rect x="413.9" y="133.3" width="5.6" height="5.6" fill="#ffc000" stroke="#ffc000" stroke-width="0"/><rect x="423.4" y="132.6" width="5.6" height="5.6" fill="#ffc000" stroke="#ffc000" stroke-width="0"/><rect x="432.9" y="130.7" width="5.6" height="5.6" fill="#ffc000" stroke="#ffc000" stroke-width="0"/><rect x="442.4" y="130.3" width="5.6" height="5.6" fill="#ffc000" stroke="#ffc000" stroke-width="0"/><rect x="452.0" y="128.9" width="5.6" height="5.6" fill="#ffc000" stroke="#ffc000" stroke-width="0"/><rect x="461.5" y="128.2" width="5.6" height="5.6" fill="#ffc000" stroke="#ffc000" stroke-width="0"/><rect x="471.0" y="128.2" width="5.6" height="5.6" fill="#ffc000" stroke="#ffc000" stroke-width="0"/><rect x="480.6" y="126.4" width="5.6" height="5.6" fill="#ffc000" stroke="#ffc000" stroke-width="0"/><rect x="490.1" y="127.3" width="5.6" height="5.6" fill="#ffc000" stroke="#ffc000" stroke-width="0"/><line x1="513" y1="111.6" x2="528" y2="111.6" stroke="#7fa6d6" stroke-width="0.9"/><polygon points="520.4,108.4 523.6,111.6 520.4,114.8 517.2,111.6" fill="#b9dde6"/><line x1="513" y1="127.0" x2="528" y2="127.0" stroke="#ff0000" stroke-width="0.9"/><rect x="518" y="124.5" width="5" height="5" fill="#ff0000"/><line x1="513" y1="142.3" x2="528" y2="142.3" stroke="#92d050" stroke-width="0.9"/><polygon points="520.4,139.5 517.6,144.4 523.2,144.4" fill="#00a650"/><line x1="513" y1="157.8" x2="528" y2="157.8" stroke="#ffc000" stroke-width="0.9"/><rect x="518" y="155.3" width="5" height="5" fill="#ffc000"/></svg>
<div style="position:absolute;left:23.6px;top:12.4px;width:7px;height:6.4px;border:1.3px solid #222"></div>
<div style="position:absolute;left:282.6px;top:12.6px;width:7.4px;height:6.4px;border:1.3px solid #222"></div>
<div class="t" style="left:37.5px;top:10.1px;font-size:12.00px;line-height:14.40px;-webkit-text-stroke:0.25px #111">農林水産省「世界食料供需預測模型」</div>
<div class="t" style="left:297.3px;top:11.5px;font-size:10.90px;line-height:13.08px;-webkit-text-stroke:0.2px #111;letter-spacing:0.1px">OECD<span class="d">–</span>FAO「Agricultural Outlook 2011<span class="d">–</span>2020」</div>
<div class="t" style="left:16.8px;top:29.9px;font-size:6.00px;line-height:7.20px;color:#222;-webkit-text-stroke:0.2px #222">(<span style="margin-left:0.8px;letter-spacing:0.05px">美元／公噸</span>)</div>
<div class="t" style="left:0.0px;top:234.5px;font-size:7.60px;line-height:9.12px;width:26px;text-align:right;color:#222;-webkit-text-stroke:0.15px #222;transform:scaleX(0.9);transform-origin:100% 50%">0</div>
<div class="t" style="left:0.0px;top:212.7px;font-size:7.60px;line-height:9.12px;width:26px;text-align:right;color:#222;-webkit-text-stroke:0.15px #222;transform:scaleX(0.9);transform-origin:100% 50%">100</div>
<div class="t" style="left:0.0px;top:190.8px;font-size:7.60px;line-height:9.12px;width:26px;text-align:right;color:#222;-webkit-text-stroke:0.15px #222;transform:scaleX(0.9);transform-origin:100% 50%">200</div>
<div class="t" style="left:0.0px;top:168.9px;font-size:7.60px;line-height:9.12px;width:26px;text-align:right;color:#222;-webkit-text-stroke:0.15px #222;transform:scaleX(0.9);transform-origin:100% 50%">300</div>
<div class="t" style="left:0.0px;top:147.1px;font-size:7.60px;line-height:9.12px;width:26px;text-align:right;color:#222;-webkit-text-stroke:0.15px #222;transform:scaleX(0.9);transform-origin:100% 50%">400</div>
<div class="t" style="left:0.0px;top:125.2px;font-size:7.60px;line-height:9.12px;width:26px;text-align:right;color:#222;-webkit-text-stroke:0.15px #222;transform:scaleX(0.9);transform-origin:100% 50%">500</div>
<div class="t" style="left:0.0px;top:103.3px;font-size:7.60px;line-height:9.12px;width:26px;text-align:right;color:#222;-webkit-text-stroke:0.15px #222;transform:scaleX(0.9);transform-origin:100% 50%">600</div>
<div class="t" style="left:0.0px;top:81.4px;font-size:7.60px;line-height:9.12px;width:26px;text-align:right;color:#222;-webkit-text-stroke:0.15px #222;transform:scaleX(0.9);transform-origin:100% 50%">700</div>
<div class="t" style="left:0.0px;top:59.6px;font-size:7.60px;line-height:9.12px;width:26px;text-align:right;color:#222;-webkit-text-stroke:0.15px #222;transform:scaleX(0.9);transform-origin:100% 50%">800</div>
<div class="t" style="left:0.0px;top:37.7px;font-size:7.60px;line-height:9.12px;width:26px;text-align:right;color:#222;-webkit-text-stroke:0.15px #222;transform:scaleX(0.9);transform-origin:100% 50%">900</div>
<div class="t" style="left:40.3px;top:46.8px;font-size:7.00px;line-height:8.40px;color:#333;letter-spacing:-0.28px;-webkit-text-stroke:0.15px #333">(<span style="margin-left:1.8px">實線：名目價格、虛線：實質價格</span><span style="margin-left:0.6px">)</span></div>
<div class="t" style="left:27.8px;top:243.7px;font-size:6.70px;line-height:8.04px;width:24px;text-align:center;font-weight:bold;color:#222">2000</div>
<div class="t" style="left:47.2px;top:243.7px;font-size:6.70px;line-height:8.04px;width:24px;text-align:center;font-weight:bold;color:#222">2002</div>
<div class="t" style="left:66.6px;top:243.7px;font-size:6.70px;line-height:8.04px;width:24px;text-align:center;font-weight:bold;color:#222">2004</div>
<div class="t" style="left:86.0px;top:243.7px;font-size:6.70px;line-height:8.04px;width:24px;text-align:center;font-weight:bold;color:#222">2006</div>
<div class="t" style="left:105.4px;top:243.7px;font-size:6.70px;line-height:8.04px;width:24px;text-align:center;font-weight:bold;color:#222">2008</div>
<div class="t" style="left:124.9px;top:243.7px;font-size:6.70px;line-height:8.04px;width:24px;text-align:center;font-weight:bold;color:#222">2010</div>
<div class="t" style="left:144.3px;top:243.7px;font-size:6.70px;line-height:8.04px;width:24px;text-align:center;font-weight:bold;color:#222">2012</div>
<div class="t" style="left:163.7px;top:243.7px;font-size:6.70px;line-height:8.04px;width:24px;text-align:center;font-weight:bold;color:#222">2014</div>
<div class="t" style="left:183.1px;top:243.7px;font-size:6.70px;line-height:8.04px;width:24px;text-align:center;font-weight:bold;color:#222">2016</div>
<div class="t" style="left:202.5px;top:243.7px;font-size:6.70px;line-height:8.04px;width:24px;text-align:center;font-weight:bold;color:#222">2018</div>
<div class="t" style="left:222.0px;top:243.7px;font-size:6.70px;line-height:8.04px;width:24px;text-align:center;font-weight:bold;color:#222">2020</div>
<div class="t" style="left:32.0px;top:253.6px;font-size:7.00px;line-height:8.40px;color:#555;letter-spacing:-0.3px">資料來源：農林水產政策研究所「2020年における世界の食料需給見通し」</div>
<div class="t" style="left:93.6px;top:89.6px;font-size:6.00px;line-height:7.20px;color:#000;font-weight:bold;letter-spacing:0.8px;-webkit-text-stroke:0.2px #000">稲米</div>
<div class="t" style="left:72.5px;top:141.9px;font-size:6.00px;line-height:7.20px;color:#000;font-weight:bold;letter-spacing:0.8px;-webkit-text-stroke:0.2px #000">大豆</div>
<div class="t" style="left:115.7px;top:221.8px;font-size:6.00px;line-height:7.20px;color:#000;font-weight:bold;letter-spacing:1.0px;-webkit-text-stroke:0.2px #000">小麦</div>
<div class="t" style="left:142.6px;top:222.6px;font-size:6.00px;line-height:7.20px;color:#000;font-weight:bold;letter-spacing:1.0px;-webkit-text-stroke:0.2px #000">玉米</div>
<div class="t" style="left:279.5px;top:30.4px;font-size:7.00px;line-height:8.40px;color:#222;letter-spacing:-0.2px">US$ /t</div>
<div class="t" style="left:260.0px;top:237.1px;font-size:8.20px;line-height:9.84px;width:31.5px;text-align:right;color:#222;transform:scaleX(0.86);transform-origin:100% 50%">0</div>
<div class="t" style="left:260.0px;top:214.0px;font-size:8.20px;line-height:9.84px;width:31.5px;text-align:right;color:#222;transform:scaleX(0.86);transform-origin:100% 50%">100</div>
<div class="t" style="left:260.0px;top:191.0px;font-size:8.20px;line-height:9.84px;width:31.5px;text-align:right;color:#222;transform:scaleX(0.86);transform-origin:100% 50%">200</div>
<div class="t" style="left:260.0px;top:167.9px;font-size:8.20px;line-height:9.84px;width:31.5px;text-align:right;color:#222;transform:scaleX(0.86);transform-origin:100% 50%">300</div>
<div class="t" style="left:260.0px;top:144.8px;font-size:8.20px;line-height:9.84px;width:31.5px;text-align:right;color:#222;transform:scaleX(0.86);transform-origin:100% 50%">400</div>
<div class="t" style="left:260.0px;top:121.8px;font-size:8.20px;line-height:9.84px;width:31.5px;text-align:right;color:#222;transform:scaleX(0.86);transform-origin:100% 50%">500</div>
<div class="t" style="left:260.0px;top:98.7px;font-size:8.20px;line-height:9.84px;width:31.5px;text-align:right;color:#222;transform:scaleX(0.86);transform-origin:100% 50%">600</div>
<div class="t" style="left:260.0px;top:75.7px;font-size:8.20px;line-height:9.84px;width:31.5px;text-align:right;color:#222;transform:scaleX(0.86);transform-origin:100% 50%">700</div>
<div class="t" style="left:260.0px;top:52.6px;font-size:8.20px;line-height:9.84px;width:31.5px;text-align:right;color:#222;transform:scaleX(0.86);transform-origin:100% 50%">800</div>
<div class="t" style="left:288.3px;top:246.7px;font-size:8.20px;line-height:9.84px;width:28px;text-align:center;color:#222;transform:scaleX(0.86);transform-origin:50% 50%">2000</div>
<div class="t" style="left:335.9px;top:246.7px;font-size:8.20px;line-height:9.84px;width:28px;text-align:center;color:#222;transform:scaleX(0.86);transform-origin:50% 50%">2005</div>
<div class="t" style="left:383.6px;top:246.7px;font-size:8.20px;line-height:9.84px;width:28px;text-align:center;color:#222;transform:scaleX(0.86);transform-origin:50% 50%">2010</div>
<div class="t" style="left:431.2px;top:246.7px;font-size:8.20px;line-height:9.84px;width:28px;text-align:center;color:#222;transform:scaleX(0.86);transform-origin:50% 50%">2015</div>
<div class="t" style="left:478.9px;top:246.7px;font-size:8.20px;line-height:9.84px;width:28px;text-align:center;color:#222;transform:scaleX(0.86);transform-origin:50% 50%">2020</div>
<div class="t" style="left:337.6px;top:35.6px;font-size:9.00px;line-height:10.80px;color:#222;letter-spacing:-0.2px;-webkit-text-stroke:0.3px #222">實際值</div>
<div class="t" style="left:504.0px;top:35.6px;font-size:9.00px;line-height:10.80px;color:#222;letter-spacing:-0.4px;-webkit-text-stroke:0.3px #222">預測值</div>
<div class="t" style="left:529.8px;top:107.1px;font-size:8.00px;line-height:9.60px;color:#111;-webkit-text-stroke:0.2px #111">小麦</div>
<div class="t" style="left:529.8px;top:122.5px;font-size:8.00px;line-height:9.60px;color:#111;-webkit-text-stroke:0.2px #111">玉米</div>
<div class="t" style="left:529.8px;top:137.8px;font-size:8.00px;line-height:9.60px;color:#111;-webkit-text-stroke:0.2px #111">稲米</div>
<div class="t" style="left:529.8px;top:153.3px;font-size:8.00px;line-height:9.60px;color:#111;-webkit-text-stroke:0.2px #111">油籽類</div>
</div></body></html>
